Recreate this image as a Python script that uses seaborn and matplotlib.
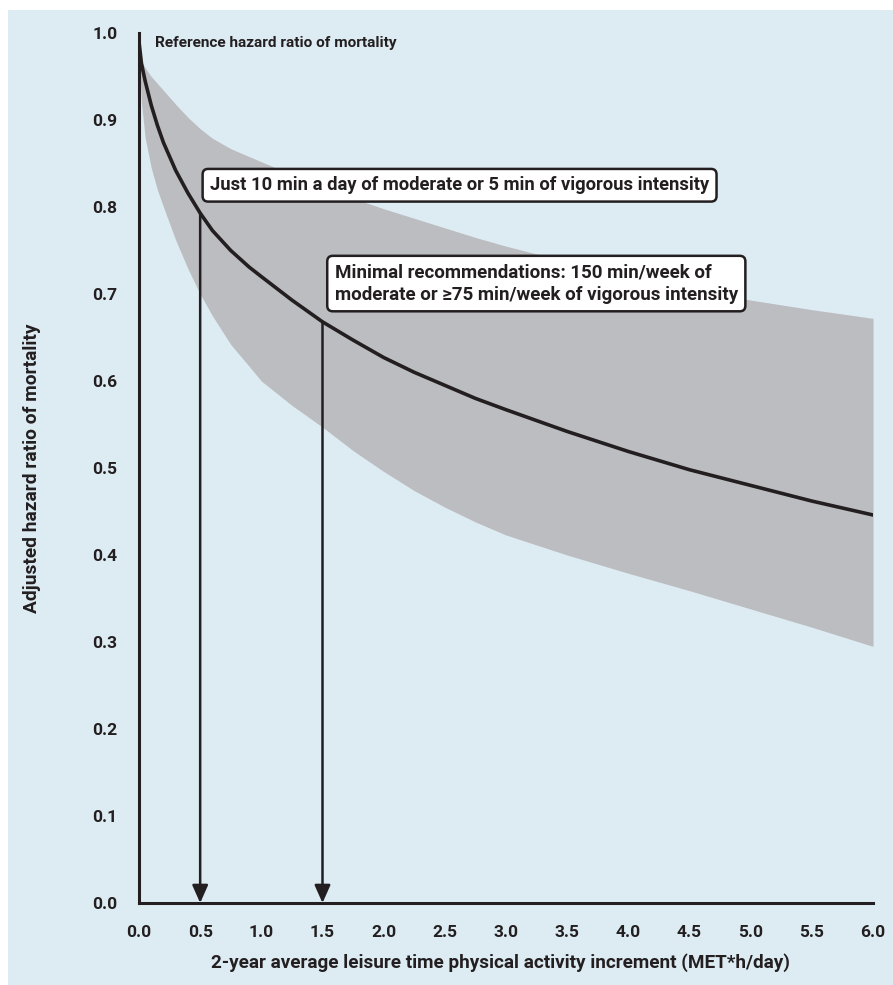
import matplotlib
matplotlib.use("Agg")
import matplotlib.pyplot as plt
import matplotlib.patches as mpatches
import pandas as pd
import seaborn as sns

# values
met_increment = [0.0, 0.02, 0.05, 0.1, 0.15, 0.2, 0.3, 0.4, 0.5, 0.6, 0.75, 0.9, 1.0,
                 1.25, 1.5, 1.75, 2.0, 2.25, 2.5, 2.75, 3.0, 3.5, 4.0, 4.5, 5.0, 5.5, 6.0]
hazard_ratio = [0.99, 0.965, 0.945, 0.917, 0.894, 0.874, 0.842, 0.816, 0.793, 0.773, 0.75,
                0.731, 0.72, 0.693, 0.668, 0.647, 0.627, 0.61, 0.595, 0.58, 0.567, 0.542,
                0.519, 0.498, 0.48, 0.462, 0.446]
ci_upper = [0.975, 0.968, 0.96, 0.95, 0.942, 0.934, 0.918, 0.903, 0.89, 0.879, 0.867,
            0.858, 0.852, 0.837, 0.823, 0.81, 0.798, 0.787, 0.776, 0.765, 0.755, 0.737,
            0.72, 0.706, 0.693, 0.682, 0.672]
ci_lower = [0.975, 0.92, 0.88, 0.845, 0.82, 0.8, 0.762, 0.729, 0.70, 0.675, 0.642,
            0.617, 0.60, 0.572, 0.547, 0.52, 0.496, 0.474, 0.455, 0.438, 0.423, 0.40,
            0.379, 0.359, 0.338, 0.317, 0.295]

x_ticks = [0.0, 0.5, 1.0, 1.5, 2.0, 2.5, 3.0, 3.5, 4.0, 4.5, 5.0, 5.5, 6.0]
y_ticks = [0.0, 0.1, 0.2, 0.3, 0.4, 0.5, 0.6, 0.7, 0.8, 0.9, 1.0]

# (x on curve, hazard ratio at that point)
arrow_x = [0.5, 1.5]
arrow_hr = [0.793, 0.668]

BG = "#ddebf2"
BAND = "#bcbdc1"
INK = "#231f20"

sns.set_theme(style="white")
plt.rcParams['font.family'] = ['Roboto', 'DejaVu Sans']
plt.rcParams['font.weight'] = 'bold'

df = pd.DataFrame({"met": met_increment, "hr": hazard_ratio,
                   "lo": ci_lower, "hi": ci_upper})

fig = plt.figure(figsize=(8.93, 9.85), dpi=100, facecolor="white")
fig.patches.append(mpatches.Rectangle((8 / 893, 0), 1, 975 / 985, transform=fig.transFigure,
                                      facecolor=BG, edgecolor="none", zorder=-10))
ax = fig.add_axes([139 / 893, 82 / 985, 734 / 893, 870 / 985])
ax.set_facecolor("none")

ax.fill_between(df["met"], df["lo"], df["hi"], color=BAND, linewidth=0, zorder=1)
sns.lineplot(data=df, x="met", y="hr", color=INK, linewidth=2.6, ax=ax, zorder=3)

for xv, hv in zip(arrow_x, arrow_hr):
    ax.annotate("", xy=(xv, 0.0), xytext=(xv, hv),
                arrowprops=dict(arrowstyle="-|>,head_length=0.9,head_width=0.4",
                                color=INK, lw=1.8, shrinkA=0, shrinkB=0), zorder=4)

ax.set_xlim(0, 6)
ax.set_ylim(0, 1)
ax.set_xticks(x_ticks)
ax.set_yticks(y_ticks)
ax.set_xticklabels([f"{t:.1f}" for t in x_ticks])
ax.set_yticklabels([f"{t:.1f}" for t in y_ticks])
sns.despine(ax=ax)
for side in ["left", "bottom"]:
    ax.spines[side].set_color(INK)
    ax.spines[side].set_linewidth(2.2)
    ax.spines[side].set_zorder(5)
ax.tick_params(axis="both", direction="out", length=7.5, width=2.2, color=INK,
               labelsize=12.5, labelcolor=INK)
ax.tick_params(axis="x", pad=8)
ax.tick_params(axis="y", pad=8)
for lab in ax.get_xticklabels() + ax.get_yticklabels():
    lab.set_fontweight("bold")

ax.set_xlabel("2-year average leisure time physical activity increment (MET*h/day)",
              fontsize=13.6, fontweight="bold", color=INK)
ax.set_ylabel("Adjusted hazard ratio of mortality", fontsize=13.8, fontweight="bold",
              color=INK)
ax.xaxis.set_label_coords(0.492, -0.058)
ax.yaxis.set_label_coords(-0.133, 0.5)

ax.text(0.13, 0.988, "Reference hazard ratio of mortality", fontsize=11.1,
        fontweight="bold", color=INK, va="center", ha="left")

box = dict(boxstyle="round,pad=0.4,rounding_size=0.3", facecolor="white",
           edgecolor=INK, linewidth=1.8)
ax.text(0.58, 0.825, "Just 10 min a day of moderate or 5 min of vigorous intensity",
        fontsize=13.2, fontweight="bold", color=INK, va="center", ha="left", bbox=box, zorder=6)
ax.text(1.60, 0.712, "Minimal recommendations: 150 min/week of\n"
        "moderate or \u226575 min/week of vigorous intensity",
        fontsize=13.5, fontweight="bold", color=INK, va="center", ha="left", bbox=box,
        linespacing=1.32, zorder=6)

fig.savefig("out.png", dpi=100, facecolor=fig.get_facecolor())
